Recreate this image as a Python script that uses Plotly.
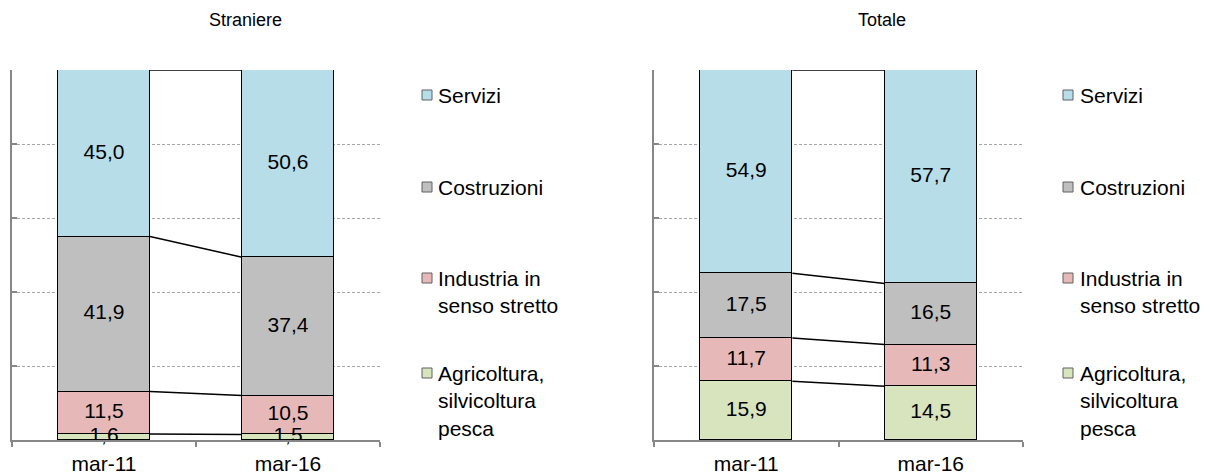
import plotly.graph_objects as go

# page has an 8px body margin on top/left
OFF = 8
W, H = 1214 - OFF, 476 - OFF

categories = ["mar-11", "mar-16"]
series_names = ["Agricoltura,<br>silvicoltura<br>pesca", "Industria in<br>senso stretto", "Costruzioni", "Servizi"]
series_colors = ["#D7E4BD", "#E6B9B8", "#BFBFBF", "#B7DDE8"]

# Straniere
agri_str = [1.6, 1.5]
ind_str = [11.5, 10.5]
cost_str = [41.9, 37.4]
serv_str = [45.0, 50.6]

# Totale
agri_tot = [15.9, 14.5]
ind_tot = [11.7, 11.3]
cost_tot = [17.5, 16.5]
serv_tot = [54.9, 57.7]

panel_titles = ["Straniere", "Totale"]

FONT = "Liberation Sans, Arial, sans-serif"
BAR_W = 0.5
xpos = list(range(len(categories)))


def px(x):
    return (x - OFF) / W


def py(y):
    return 1 - (y - OFF) / H


fig = go.Figure()

panels = [
    ("x", "y", [agri_str, ind_str, cost_str, serv_str]),
    ("x2", "y2", [agri_tot, ind_tot, cost_tot, serv_tot]),
]

label_traces = []
for xa, ya, data in panels:
    cum = [0.0] * len(categories)
    for name, color, vals in zip(series_names, series_colors, data):
        fig.add_trace(go.Bar(
            x=xpos, y=vals, width=BAR_W, name=name,
            marker=dict(color=color, line=dict(color="black", width=1)),
            xaxis=xa, yaxis=ya, showlegend=False, hoverinfo="skip",
        ))
        mids = [c + v / 2 for c, v in zip(cum, vals)]
        label_traces.append(go.Scatter(
            x=xpos, y=mids, customdata=vals, mode="text",
            texttemplate="%{customdata:.1f}", textposition="middle center",
            textfont=dict(size=21, color="black", family=FONT),
            xaxis=xa, yaxis=ya, showlegend=False, hoverinfo="skip", cliponaxis=False,
        ))
        cum = [c + v for c, v in zip(cum, vals)]
        fig.add_trace(go.Scatter(
            x=[xpos[0] + BAR_W / 2, xpos[1] - BAR_W / 2], y=cum, mode="lines",
            line=dict(color="black", width=1.5), xaxis=xa, yaxis=ya,
            showlegend=False, hoverinfo="skip", cliponaxis=False,
        ))

for t in label_traces:
    fig.add_trace(t)

ydom = [py(440), py(70)]
axis_gray = "#878787"
grid_gray = "#A6A6A6"


def xaxis_cfg(x0, x1, anchor):
    return dict(
        domain=[px(x0), px(x1)], anchor=anchor, range=[-0.5, 1.5], automargin=False,
        tickmode="array", tickvals=xpos, ticktext=categories, ticks="",
        tickfont=dict(size=21, color="black", family=FONT), ticklabelstandoff=4,
        showline=True, linecolor=axis_gray, linewidth=1.5, showgrid=False, zeroline=False,
        minor=dict(tickmode="array", tickvals=[-0.5, 0.5, 1.5], ticks="outside",
                   ticklen=5, tickcolor=axis_gray, tickwidth=1.5, showgrid=False),
        fixedrange=True,
    )


def yaxis_cfg(anchor):
    return dict(
        domain=ydom, anchor=anchor, range=[0, 100], dtick=20, tick0=0, automargin=False,
        showticklabels=False, ticks="inside", ticklen=5, tickcolor=axis_gray, tickwidth=1.5,
        showline=True, linecolor=axis_gray, linewidth=1.5,
        showgrid=True, gridcolor=grid_gray, gridwidth=1, griddash="3px,2px",
        zeroline=False, fixedrange=True,
    )


fig.update_layout(
    width=W, height=H, margin=dict(l=0, r=0, t=0, b=0, autoexpand=False),
    paper_bgcolor="white", plot_bgcolor="white",
    barmode="stack", bargap=0, separators=",.",
    font=dict(family=FONT, color="black"),
    xaxis=xaxis_cfg(12, 380, "y"), yaxis=yaxis_cfg("x"),
    xaxis2=xaxis_cfg(654, 1023, "y2"), yaxis2=yaxis_cfg("x2"),
    showlegend=False,
)

# panel titles
for title, cx in zip(panel_titles, [245, 882]):
    fig.add_annotation(text=title, x=px(cx), y=py(20), xref="paper", yref="paper",
                       xanchor="center", yanchor="middle", showarrow=False,
                       font=dict(size=18, color="black", family=FONT))

# legends (Servizi on top)
legend_rows = [95, 187, 278, 373]
legend_order = list(reversed(range(len(series_names))))
for sq_x, tx_x in [(422, 436), (1063, 1078)]:
    for row_y, idx in zip(legend_rows, legend_order):
        fig.add_shape(type="rect", xref="paper", yref="paper",
                      x0=px(sq_x), x1=px(sq_x + 10),
                      y0=py(row_y + 5), y1=py(row_y - 5),
                      fillcolor=series_colors[idx], line=dict(color="#606060", width=1))
        fig.add_annotation(text=series_names[idx], x=px(tx_x), y=py(row_y - 13),
                           xref="paper", yref="paper", xanchor="left", yanchor="top",
                           align="left", showarrow=False,
                           font=dict(size=21, color="black", family=FONT))

fig.write_html("out.html")
